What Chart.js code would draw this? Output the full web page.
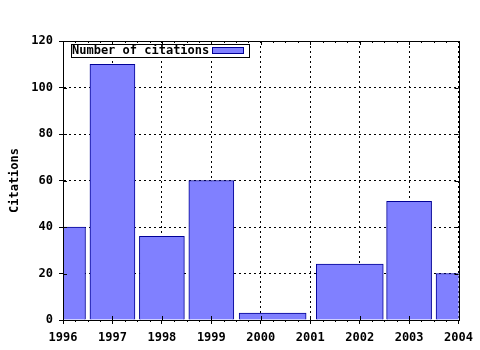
<!DOCTYPE html>
<html><head><meta charset="utf-8">
<script src="https://cdn.jsdelivr.net/npm/chart.js@4"></script>
<style>html,body{margin:0;padding:0;background:#fff}#wrap{width:480px;height:350px}</style>
</head><body><div id="wrap"><canvas id="c" width="480" height="350"></canvas></div>
<script>
const yearsA = [1996, 1997, 1998, 1999, 2003, 2004];
const citationsA = [40, 110, 36, 60, 51, 20];
const yearsB = [2000.24, 2001.8];
const citationsB = [3, 24];
const seriesLabel = 'Number of citations';
const yTitle = 'Citations';

const FONT = '"DejaVu Sans Mono", "Liberation Mono", monospace';
const fill = 'rgb(128,128,255)';
const edge = 'rgb(0,0,150)';

const frame = {
  id: 'frame',
  afterDatasetsDraw(chart) {
    const {ctx, chartArea: a, scales} = chart;
    ctx.save();
    ctx.strokeStyle = '#000';
    ctx.lineWidth = 1;
    ctx.setLineDash([]);
    ctx.beginPath();
    for (let v = 1996; v <= 2004; v++) {
      const x = Math.round(scales.x.getPixelForValue(v)) + 0.5;
      ctx.moveTo(x, a.bottom); ctx.lineTo(x, a.bottom - 4);
      ctx.moveTo(x, a.top); ctx.lineTo(x, a.top + 4);
      if (v < 2004) {
        for (let k = 1; k < 4; k++) {
          const xm = Math.round(scales.x.getPixelForValue(v + k / 4)) + 0.5;
          ctx.moveTo(xm, a.bottom); ctx.lineTo(xm, a.bottom + 2);
          ctx.moveTo(xm, a.top); ctx.lineTo(xm, a.top + 2);
        }
      }
    }
    for (let v = 0; v <= 120; v += 20) {
      const y = Math.round(scales.y.getPixelForValue(v)) + 0.5;
      ctx.moveTo(a.left, y); ctx.lineTo(a.left + 4, y);
      ctx.moveTo(a.right, y); ctx.lineTo(a.right - 4, y);
    }
    ctx.stroke();
    ctx.strokeRect(Math.round(a.left) + 0.5, Math.round(a.top) + 0.5,
                   Math.round(a.right - a.left), Math.round(a.bottom - a.top));
    const lx = 71.5, ly = 44.5;
    ctx.fillStyle = '#fff';
    ctx.fillRect(lx, ly, 178, 13);
    ctx.strokeRect(lx, ly, 178, 13);
    ctx.fillStyle = '#000';
    ctx.font = 'bold 12px ' + FONT;
    ctx.textBaseline = 'middle';
    ctx.textAlign = 'left';
    ctx.fillText(seriesLabel, 72, 51);
    ctx.fillStyle = fill;
    ctx.fillRect(212.5, 47.5, 31, 6);
    ctx.strokeStyle = edge;
    ctx.strokeRect(212.5, 47.5, 31, 6);
    ctx.restore();
  }
};

const gridCommon = {
  color: '#000',
  lineWidth: 1,
  tickLength: 4,
  tickColor: '#000',
  tickBorderDash: [],
  offset: false
};

new Chart(document.getElementById('c'), {
  type: 'bar',
  data: {
    datasets: [
      {
        label: seriesLabel,
        data: yearsA.map((x, i) => ({x, y: citationsA[i]})),
        backgroundColor: fill, borderColor: edge, borderWidth: 1,
        barThickness: 45, grouped: false
      },
      {
        label: seriesLabel,
        data: yearsB.map((x, i) => ({x, y: citationsB[i]})),
        backgroundColor: fill, borderColor: edge, borderWidth: 1,
        barThickness: 67, grouped: false
      }
    ]
  },
  options: {
    responsive: false,
    animation: false,
    layout: {padding: {left: 0, right: 21, top: 41, bottom: 0}},
    plugins: {legend: {display: false}, tooltip: {enabled: false}},
    scales: {
      x: {
        type: 'linear', min: 1996, max: 2004, offset: false,
        afterFit(s) { s.height = 30; },
        ticks: {stepSize: 1, color: '#000', padding: 7, maxRotation: 0,
                font: {family: FONT, size: 12, weight: 'bold'},
                callback: v => String(v)},
        grid: gridCommon,
        border: {display: true, color: '#000', dash: [2, 3]}
      },
      y: {
        min: 0, max: 120,
        afterFit(s) { s.width = 63; },
        ticks: {stepSize: 20, color: '#000', padding: 6,
                font: {family: FONT, size: 12, weight: 'bold'}},
        grid: gridCommon,
        border: {display: true, color: '#000', dash: [2, 3]},
        title: {display: true, text: yTitle, color: '#000', padding: {top: 8, bottom: 0},
                font: {family: FONT, size: 12, weight: 'bold'}}
      }
    }
  },
  plugins: [frame]
});
</script></body></html>
